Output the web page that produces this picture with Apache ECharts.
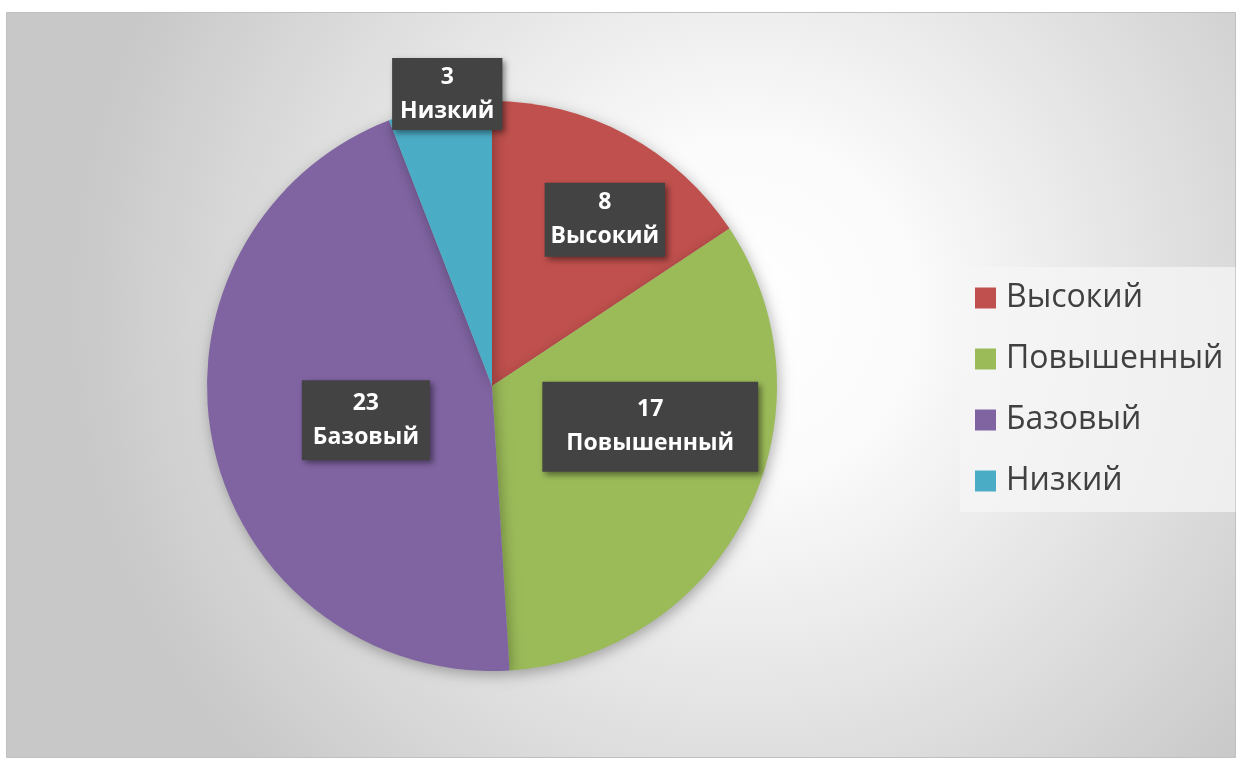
<!DOCTYPE html>
<html>
<head>
<meta charset="utf-8">
<script src="https://cdn.jsdelivr.net/npm/echarts@6/dist/echarts.min.js"></script>
<style>
  html, body { margin: 0; padding: 0; background: #fff; }
  #main { width: 1240px; height: 760px; }
</style>
</head>
<body>
<div id="main"></div>
<script>
// данные
var levels = ['Высокий', 'Повышенный', 'Базовый', 'Низкий'];
var counts = [8, 17, 23, 3];
var colors = ['#C0504D', '#9BBB59', '#8064A2', '#4BACC6'];

// сдвиг подписей и отступы рамок (как в Excel)
var labelShift = [[44, -38], [28, -24], [16, 3], [-18, -149]];
var labelPad = [[3, 6], [11, 24], [6, 11], [2, 8]];

var myChart = echarts.init(document.getElementById('main'));

var pieData = levels.map(function (name, i) {
    return {
        name: name,
        value: counts[i],
        itemStyle: { color: colors[i] },
        label: { padding: labelPad[i] }
    };
});

var option = {
    backgroundColor: '#ffffff',
    animation: false,
    graphic: [{
        type: 'rect',
        z: -10,
        shape: { x: 6.5, y: 12.5, width: 1229, height: 745 },
        style: {
            fill: new echarts.graphic.RadialGradient(0.6, 0.4, 0.9, [
                { offset: 0, color: '#ffffff' },
                { offset: 0.25, color: '#fbfbfb' },
                { offset: 1, color: '#c8c8c8' }
            ]),
            stroke: '#c0c0c0',
            lineWidth: 1
        }
    }],
    legend: {
        orient: 'vertical',
        left: 960,
        top: 267,
        padding: [15, 12, 15, 15],
        backgroundColor: 'rgba(245,245,245,0.75)',
        itemWidth: 21,
        itemHeight: 21,
        itemGap: 29,
        icon: 'rect',
        data: levels,
        textStyle: {
            fontFamily: 'Open Sans',
            fontSize: 32,
            lineHeight: 32,
            color: '#404040',
            padding: [0, 0, 0, 5]
        }
    },
    series: [{
        type: 'pie',
        center: [492, 386],
        radius: 285,
        startAngle: 90,
        clockwise: true,
        itemStyle: {
            shadowColor: 'rgba(0,0,0,0.3)',
            shadowBlur: 14,
            shadowOffsetX: 2,
            shadowOffsetY: 4
        },
        emphasis: { disabled: true },
        label: {
            show: true,
            position: 'inside',
            formatter: '{c}\n{b}',
            fontFamily: 'Open Sans',
            fontWeight: 'bold',
            fontSize: 23,
            lineHeight: 34,
            color: '#ffffff',
            backgroundColor: '#434343',
            shadowColor: 'rgba(0,0,0,0.45)',
            shadowBlur: 6,
            shadowOffsetX: 3,
            shadowOffsetY: 3
        },
        labelLayout: function (params) {
            var s = labelShift[params.dataIndex];
            return { dx: s[0], dy: s[1] };
        },
        data: pieData
    }]
};

myChart.setOption(option);
</script>
</body>
</html>
